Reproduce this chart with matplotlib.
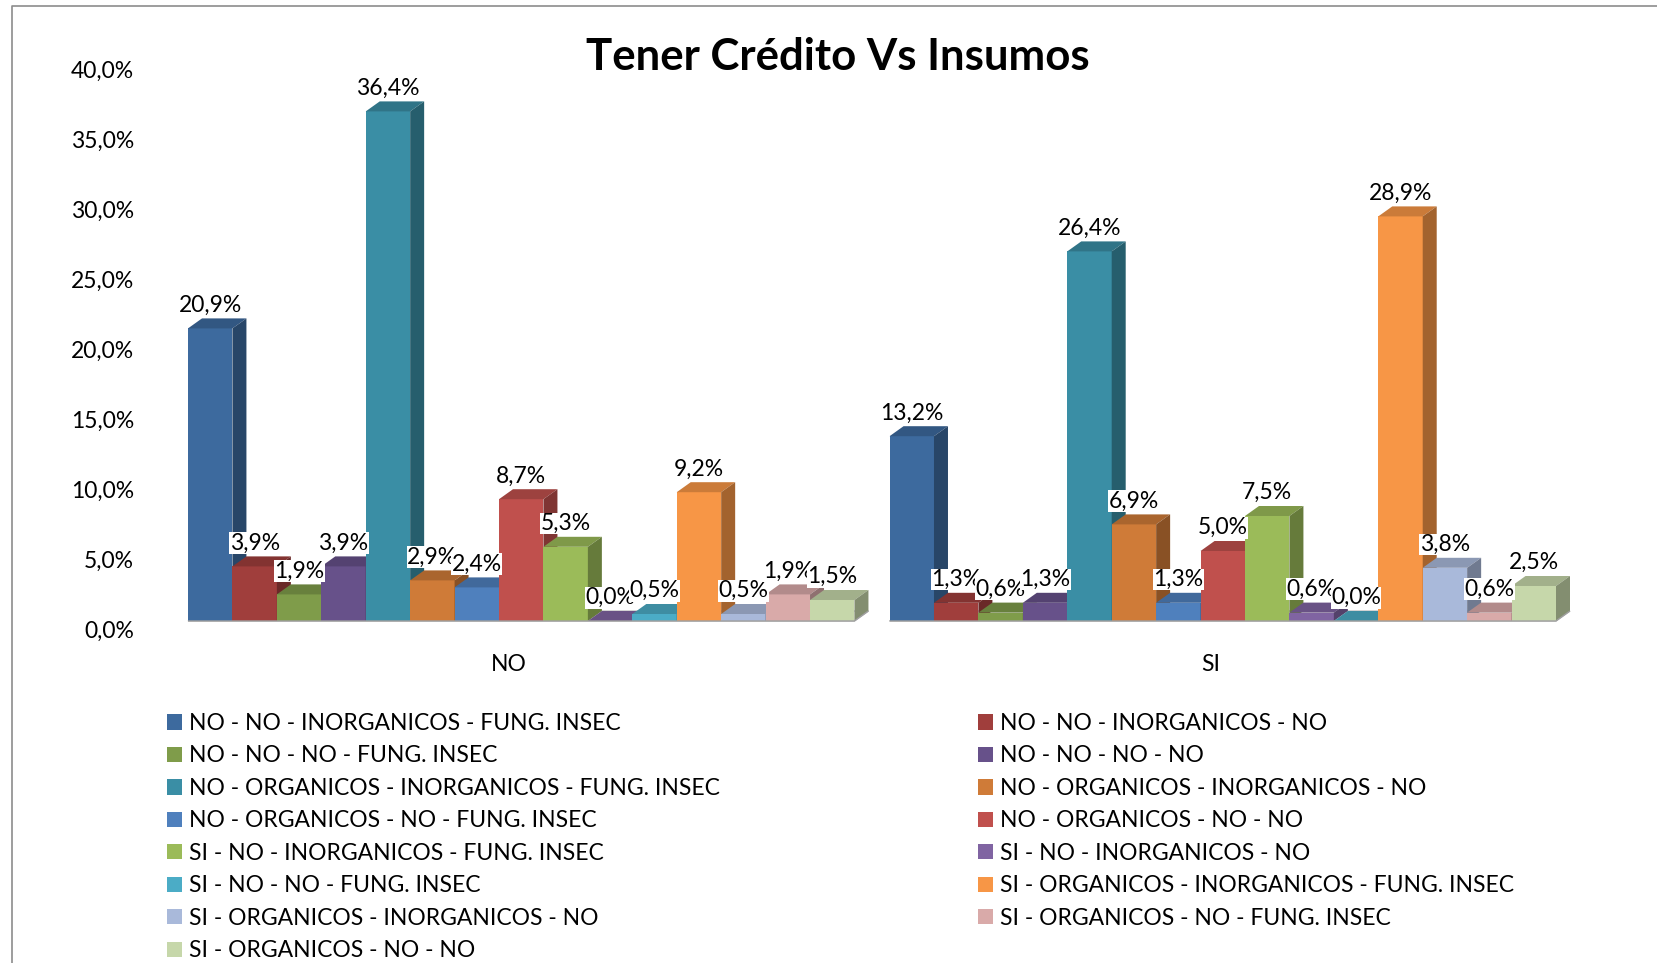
import matplotlib
matplotlib.use("Agg")
import matplotlib.pyplot as plt
from matplotlib.patches import Polygon, Patch
from matplotlib.colors import to_rgb

plt.rcParams['font.family'] = ['Lato', 'DejaVu Sans']

# Datos
grupos = ['NO', 'SI']
series = [
    'NO - NO - INORGANICOS - FUNG. INSEC',
    'NO - NO - INORGANICOS - NO',
    'NO - NO - NO - FUNG. INSEC',
    'NO - NO - NO - NO',
    'NO - ORGANICOS - INORGANICOS - FUNG. INSEC',
    'NO - ORGANICOS - INORGANICOS - NO',
    'NO - ORGANICOS - NO - FUNG. INSEC',
    'NO - ORGANICOS - NO - NO',
    'SI - NO - INORGANICOS - FUNG. INSEC',
    'SI - NO - INORGANICOS - NO',
    'SI - NO - NO - FUNG. INSEC',
    'SI - ORGANICOS - INORGANICOS - FUNG. INSEC',
    'SI - ORGANICOS - INORGANICOS - NO',
    'SI - ORGANICOS - NO - FUNG. INSEC',
    'SI - ORGANICOS - NO - NO',
]
colores = ['#3d6a9e', '#a03e3c', '#7f9c4a', '#67518a', '#3a8ea5',
           '#cf7b38', '#4f80bd', '#c0504d', '#9bbb59', '#8064a2',
           '#4bacc6', '#f79646', '#a9b9da', '#d9aaa9', '#c6d7aa']
valores_no = [20.9, 3.9, 1.9, 3.9, 36.4, 2.9, 2.4, 8.7, 5.3, 0.0, 0.5, 9.2, 0.5, 1.9, 1.5]
valores_si = [13.2, 1.3, 0.6, 1.3, 26.4, 6.9, 1.3, 5.0, 7.5, 0.6, 0.0, 28.9, 3.8, 0.6, 2.5]
ticks_y = [0, 5, 10, 15, 20, 25, 30, 35, 40]

FS = 16.5  # tamano de letra general

W, H = 1658, 963
fig = plt.figure(figsize=(W / 100, H / 100), dpi=100)

# ejes: y=0 en el borde frontal del piso
px_x0, px_x1, px_y0 = 188, 1556, 621
ppu_y = 14.0  # pixeles por 1 %
ax = fig.add_axes([px_x0 / W, (H - px_y0) / H, (px_x1 - px_x0) / W, ppu_y * 40 / H])

n = len(series)
hueco = 0.79
x_max = 2 * n + hueco
ax.set_xlim(0, x_max)
ax.set_ylim(0, 40)
ppu_x = (px_x1 - px_x0) / x_max
dx = 14 / ppu_x
dy = 10 / ppu_y


def tono(c, f):
    r, g, b = to_rgb(c)
    return (r * f, g * f, b * f)


def fmt(v):
    return f'{v:.1f}%'.replace('.', ',')


z = 2
for gi, vals in enumerate([valores_no, valores_si]):
    x0 = gi * (n + hueco)
    # piso
    piso = Polygon([(x0, 0), (x0 + n, 0), (x0 + n + dx, dy), (x0 + dx, dy)],
                   closed=True, facecolor='#ececec', edgecolor='#b0b0b0', lw=0.8,
                   zorder=1, clip_on=False)
    ax.add_patch(piso)
    for i, v in enumerate(vals):
        x = x0 + i
        c = colores[i]
        ax.bar(x, v, width=1, align='edge', color=c, edgecolor='none', zorder=z, clip_on=False)
        ax.add_patch(Polygon([(x, v), (x + 1, v), (x + 1 + dx, v + dy), (x + dx, v + dy)],
                             closed=True, facecolor=tono(c, 0.82), edgecolor='none',
                             zorder=z, clip_on=False))
        ax.add_patch(Polygon([(x + 1, 0), (x + 1 + dx, dy), (x + 1 + dx, v + dy), (x + 1, v)],
                             closed=True, facecolor=tono(c, 0.66), edgecolor='none',
                             zorder=z, clip_on=False))
        z += 1
    ax.plot([x0, x0 + n, x0 + n + dx], [0, 0, dy], color='#a0a0a0', lw=1.0,
            zorder=z, clip_on=False, solid_capstyle='butt')

# etiquetas de datos
for gi, vals in enumerate([valores_no, valores_si]):
    x0 = gi * (n + hueco)
    for i, v in enumerate(vals):
        ax.annotate(fmt(v), xy=(x0 + i + 0.5, v + dy), xytext=(0, 2),
                    textcoords='offset points', ha='center', va='bottom',
                    fontsize=FS, color='black', zorder=100 + i,
                    bbox=dict(facecolor='white', edgecolor='none', pad=0.3),
                    annotation_clip=False)

# eje y (etiquetas dibujadas un poco mas abajo, como en el grafico 3D)
ax.set_yticks([])
for t in ticks_y:
    ax.annotate(fmt(t), xy=(0, t), xycoords=('axes fraction', 'data'),
                xytext=(-54 * 0.72, -10 * 0.72), textcoords='offset points',
                ha='right', va='center', fontsize=FS, annotation_clip=False)

# categorias
centros = [gi * (n + hueco) + n / 2 - 0.27 for gi in range(len(grupos))]
ax.set_xticks(centros)
ax.set_xticklabels(grupos, fontsize=FS)
ax.tick_params(axis='x', length=0, pad=24)
for s in ax.spines.values():
    s.set_visible(False)
ax.patch.set_visible(False)

fig.text(838 / W, 1 - 57 / H, 'Tener Crédito Vs Insumos', ha='center', va='center',
         fontsize=31.5, fontweight='bold')

# leyenda en dos columnas (orden por filas)
handles = [Patch(facecolor=c, edgecolor='none') for c in colores]
opts = dict(loc='upper left', frameon=False, fontsize=FS, handlelength=0.65,
            handleheight=0.65, handletextpad=0.32, labelspacing=0.50,
            borderpad=0, borderaxespad=0)
leg1 = fig.legend(handles[0::2], series[0::2], bbox_to_anchor=(167 / W, 1 - 713 / H), **opts)
leg2 = fig.legend(handles[1::2], series[1::2], bbox_to_anchor=(978 / W, 1 - 713 / H), **opts)

# borde del grafico
fig.add_artist(plt.Line2D([12 / W, 12 / W, 1], [0, 1 - 6 / H, 1 - 6 / H],
                          transform=fig.transFigure, color='#8c8c8c', lw=1.2))

fig.savefig('out.png', dpi=100)
